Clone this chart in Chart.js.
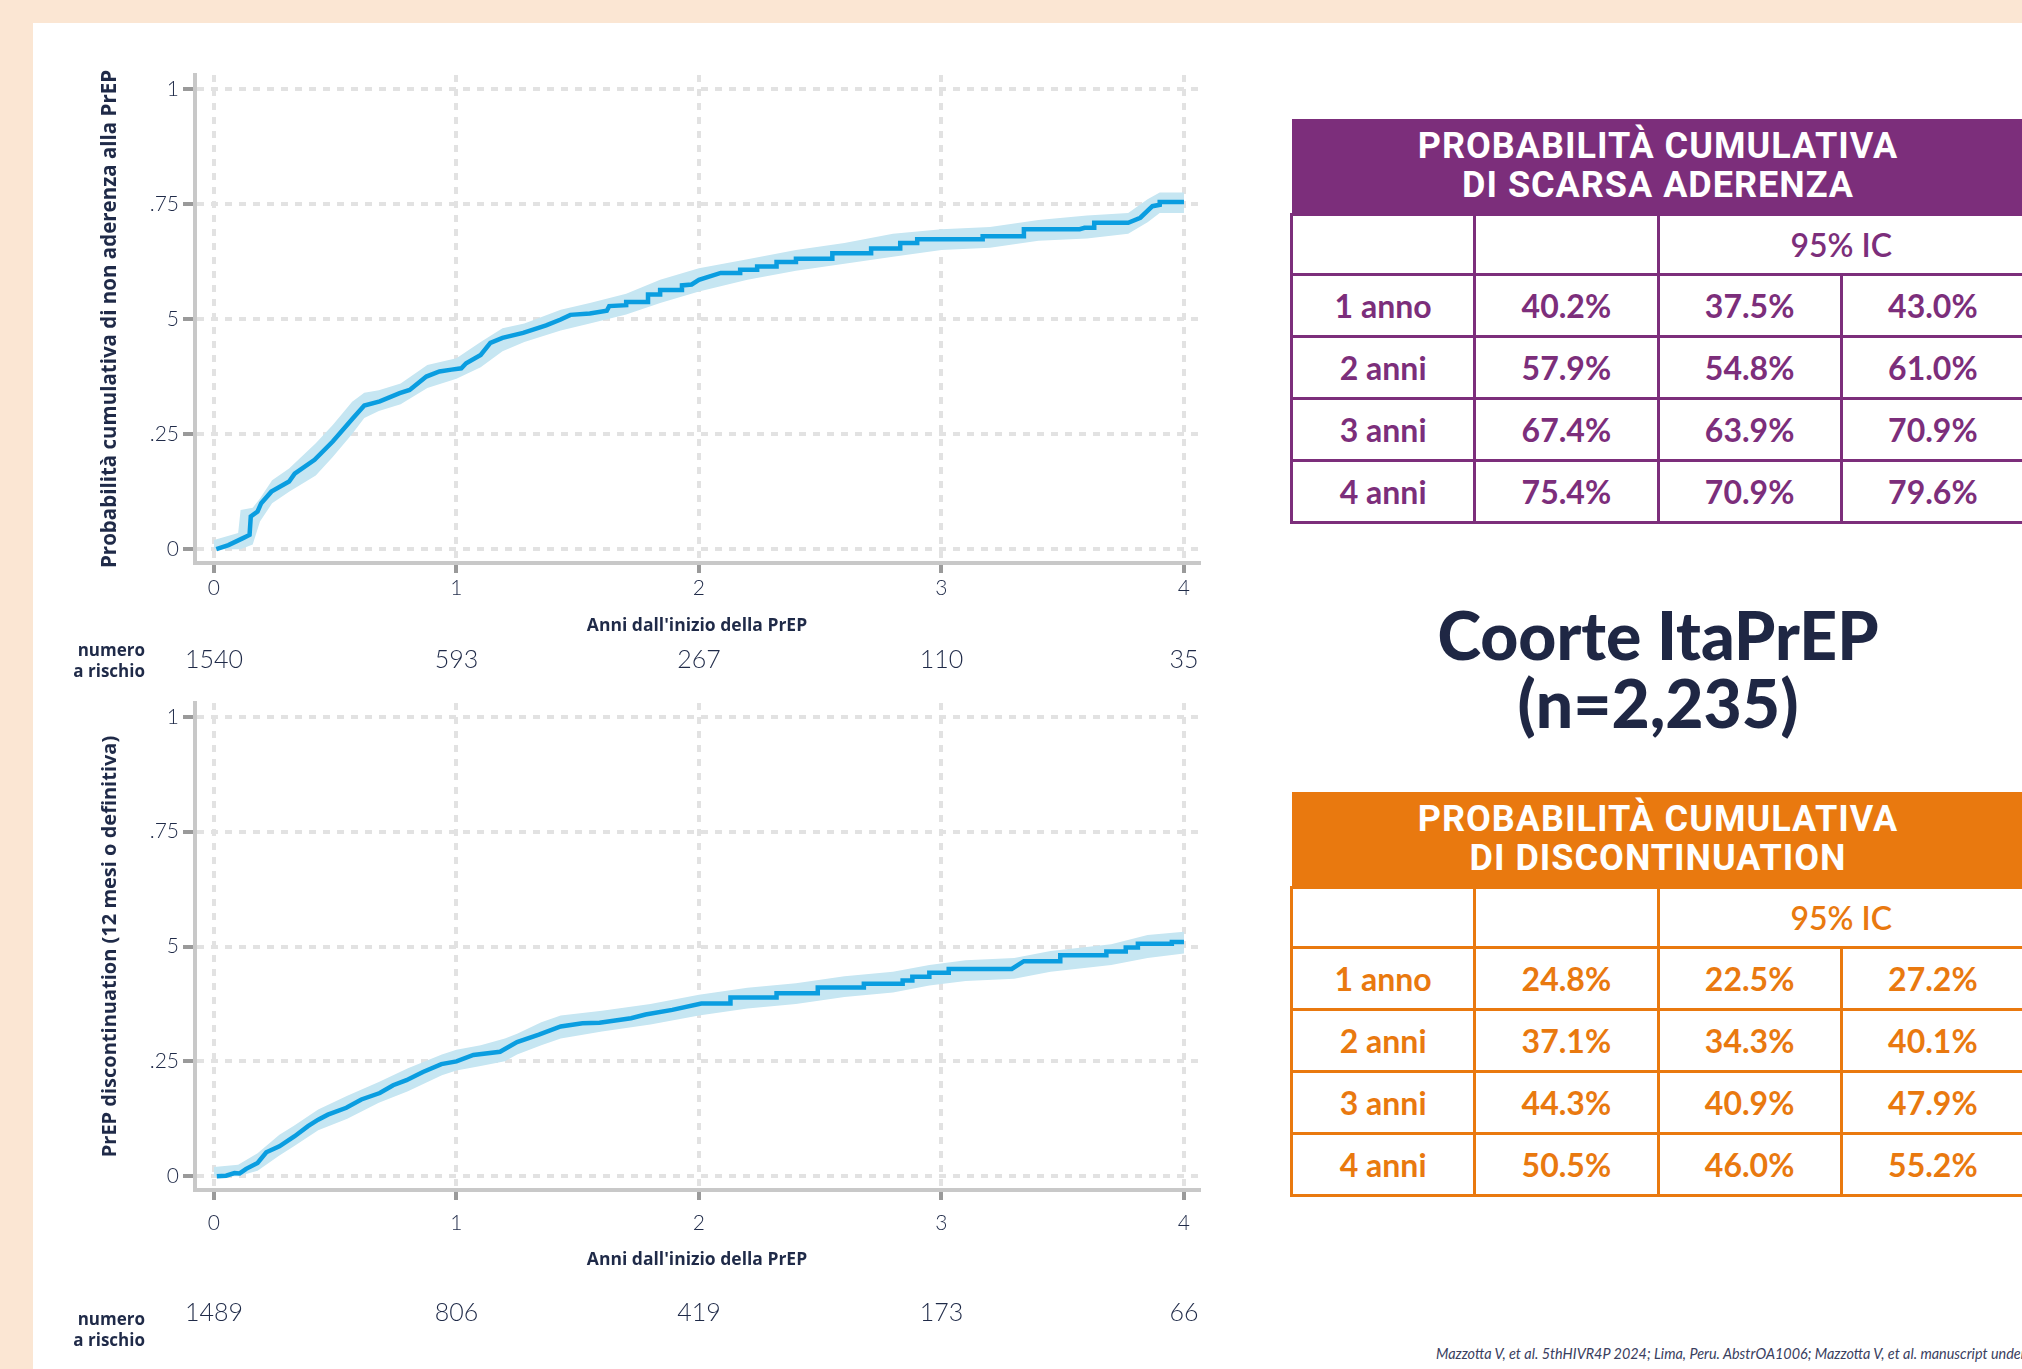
<!DOCTYPE html>
<html lang="it">
<head>
<meta charset="utf-8">
<script src="https://cdn.jsdelivr.net/npm/chart.js@4.4.0/dist/chart.umd.min.js"></script>
<style>
  html, body { margin: 0; padding: 0; }
  body {
    width: 2022px; height: 1369px; overflow: hidden; position: relative;
    background: #fbe6d3; font-family: Lato, "Open Sans", sans-serif; color: #1f2a48;
  }
  .panel { position: absolute; left: 33px; top: 23px; right: 0; bottom: 0; background: #fff; }
  .chart-box { position: absolute; left: 0; width: 1230px; }
  #box1 { top: 0; height: 700px; }
  #box2 { top: 640px; height: 729px; }
  .risk-label {
    position: absolute; left: 25px; width: 120px; text-align: right;
    font-family: "Open Sans", sans-serif; font-weight: 700; font-size: 17px; line-height: 21px; color: #1f2a48;
  }
  table.km {
    position: absolute; left: 1290px; width: 736px; border-collapse: collapse; table-layout: fixed;
  }
  table.km th {
    color: #fff; font-family: Roboto, sans-serif; font-weight: 700; font-size: 36px;
    line-height: 39px; letter-spacing: 1px; padding: 0; height: 94px;
  }
  table.km td {
    border: 3px solid; text-align: center; font-family: Lato, sans-serif; font-weight: 700;
    font-size: 32px; height: 59px; padding: 0;
  }
  table.km tr.ic td { font-weight: 600; height: 57px; }
  .purple th { background: #7c2e7b; }
  .purple td { color: #7c2e7b; border-color: #b488b3; }
  .orange th { background: #e9790f; }
  .orange td { color: #e9790f; border-color: #f3ab6b; }
  .cohort {
    position: absolute; left: 1290px; width: 736px; top: 601px; text-align: center;
    font-family: Lato, sans-serif; font-weight: 900; font-size: 66px; line-height: 68px; color: #1f2744;
  }
  .footnote {
    position: absolute; left: 1436px; top: 1345px; white-space: nowrap;
    font-family: Lato, sans-serif; font-style: italic; font-size: 14.4px; color: #3a4060;
  }
</style>
</head>
<body>
<div class="panel"></div>
<div class="chart-box" id="box1"><canvas id="chart1"></canvas></div>
<div class="chart-box" id="box2"><canvas id="chart2"></canvas></div>
<div class="risk-label" style="top:639px">numero<br>a rischio</div>
<div class="risk-label" style="top:1308px">numero<br>a rischio</div>
<table class="km purple" id="tab1" style="top:119px"></table>
<table class="km orange" id="tab2" style="top:792px"></table>
<div class="cohort">Coorte ItaPrEP<br>(n=2,235)</div>
<div class="footnote">Mazzotta V, et al. 5thHIVR4P 2024; Lima, Peru. AbstrOA1006; Mazzotta V, et al. manuscript under review</div>

<script>
// axes
const xTicks = [0, 1, 2, 3, 4];
const yTicks = [0, 0.25, 0.5, 0.75, 1];
const yTickLabels = ["0", ".25", "5", ".75", "1"];

// cumulative probability of non-adherence (Kaplan-Meier)
const adherenceT = [0.01, 0.06, 0.12, 0.147, 0.152, 0.18, 0.195, 0.237, 0.31, 0.333, 0.415, 0.49, 0.574, 0.62, 0.684, 0.766, 0.807, 0.876, 0.93, 0.98, 1.02, 1.04, 1.10, 1.14, 1.19, 1.275, 1.37, 1.43, 1.47, 1.55, 1.62, 1.63, 1.70, 1.70, 1.79, 1.79, 1.84, 1.84, 1.93, 1.93, 1.97, 2.0, 2.09, 2.17, 2.17, 2.24, 2.24, 2.32, 2.32, 2.40, 2.40, 2.55, 2.55, 2.71, 2.71, 2.83, 2.83, 2.90, 2.90, 3.17, 3.17, 3.34, 3.34, 3.57, 3.59, 3.63, 3.63, 3.77, 3.82, 3.87, 3.90, 3.90, 4.0];
const adherenceY = [0, 0.009, 0.024, 0.031, 0.071, 0.082, 0.10, 0.125, 0.147, 0.164, 0.194, 0.234, 0.285, 0.312, 0.321, 0.339, 0.346, 0.375, 0.386, 0.39, 0.393, 0.404, 0.422, 0.448, 0.459, 0.47, 0.486, 0.499, 0.509, 0.512, 0.518, 0.528, 0.53, 0.537, 0.537, 0.553, 0.553, 0.563, 0.563, 0.573, 0.575, 0.585, 0.60, 0.60, 0.607, 0.607, 0.614, 0.614, 0.624, 0.624, 0.631, 0.631, 0.643, 0.643, 0.653, 0.653, 0.665, 0.665, 0.673, 0.673, 0.68, 0.68, 0.695, 0.695, 0.698, 0.698, 0.709, 0.709, 0.72, 0.745, 0.748, 0.754, 0.754];
const adherenceBandT = [0, 0.10, 0.11, 0.16, 0.19, 0.24, 0.31, 0.42, 0.49, 0.57, 0.62, 0.68, 0.77, 0.88, 1.0, 1.10, 1.19, 1.28, 1.43, 1.55, 1.70, 1.84, 2.0, 2.2, 2.4, 2.6, 2.8, 3.0, 3.2, 3.4, 3.6, 3.77, 3.85, 3.90, 4.0];
const adherenceBandLo = [0, 0, 0, 0.01, 0.06, 0.10, 0.125, 0.16, 0.20, 0.25, 0.285, 0.30, 0.315, 0.35, 0.37, 0.395, 0.43, 0.45, 0.475, 0.49, 0.51, 0.535, 0.56, 0.585, 0.605, 0.62, 0.635, 0.65, 0.655, 0.67, 0.675, 0.685, 0.71, 0.73, 0.73];
const adherenceBandHi = [0.02, 0.035, 0.085, 0.09, 0.11, 0.15, 0.175, 0.23, 0.27, 0.32, 0.34, 0.345, 0.36, 0.40, 0.415, 0.45, 0.48, 0.49, 0.52, 0.535, 0.555, 0.585, 0.61, 0.63, 0.65, 0.665, 0.685, 0.695, 0.70, 0.715, 0.725, 0.73, 0.76, 0.775, 0.775];
const adherenceAtRisk = [1540, 593, 267, 110, 35];

// PrEP discontinuation
const discT = [0.012, 0.05, 0.085, 0.106, 0.133, 0.18, 0.216, 0.27, 0.333, 0.388, 0.43, 0.47, 0.546, 0.608, 0.684, 0.739, 0.794, 0.862, 0.938, 1.0, 1.07, 1.18, 1.25, 1.34, 1.43, 1.52, 1.59, 1.72, 1.78, 1.89, 2.01, 2.13, 2.13, 2.32, 2.32, 2.49, 2.49, 2.68, 2.68, 2.84, 2.84, 2.88, 2.88, 2.95, 2.95, 3.03, 3.03, 3.29, 3.34, 3.49, 3.49, 3.68, 3.68, 3.76, 3.76, 3.81, 3.81, 3.95, 3.95, 4.0];
const discY = [0, 0.001, 0.007, 0.006, 0.016, 0.029, 0.052, 0.065, 0.087, 0.109, 0.123, 0.134, 0.149, 0.167, 0.181, 0.198, 0.209, 0.227, 0.244, 0.25, 0.264, 0.271, 0.292, 0.308, 0.326, 0.333, 0.334, 0.344, 0.352, 0.362, 0.376, 0.376, 0.389, 0.389, 0.398, 0.398, 0.411, 0.411, 0.419, 0.419, 0.426, 0.426, 0.434, 0.434, 0.443, 0.443, 0.451, 0.451, 0.468, 0.468, 0.481, 0.481, 0.489, 0.489, 0.498, 0.498, 0.506, 0.506, 0.51, 0.51];
const discBandT = [0, 0.1, 0.18, 0.27, 0.33, 0.43, 0.55, 0.68, 0.8, 0.94, 1.0, 1.1, 1.2, 1.25, 1.35, 1.43, 1.6, 1.8, 2.0, 2.2, 2.4, 2.6, 2.8, 2.95, 3.1, 3.3, 3.45, 3.7, 3.85, 4.0];
const discBandLo = [0, 0, 0.012, 0.045, 0.065, 0.10, 0.125, 0.16, 0.185, 0.22, 0.23, 0.24, 0.25, 0.265, 0.285, 0.30, 0.315, 0.33, 0.35, 0.365, 0.375, 0.39, 0.40, 0.415, 0.425, 0.43, 0.445, 0.46, 0.475, 0.485];
const discBandHi = [0.02, 0.025, 0.05, 0.09, 0.11, 0.145, 0.175, 0.205, 0.235, 0.265, 0.275, 0.285, 0.30, 0.31, 0.335, 0.35, 0.36, 0.375, 0.395, 0.41, 0.42, 0.435, 0.445, 0.46, 0.47, 0.475, 0.49, 0.505, 0.525, 0.532];
const discAtRisk = [1489, 806, 419, 173, 66];

// tables
const yearLabels = ["1 anno", "2 anni", "3 anni", "4 anni"];
const adherencePct = [40.2, 57.9, 67.4, 75.4];
const adherenceLow = [37.5, 54.8, 63.9, 70.9];
const adherenceHigh = [43.0, 61.0, 70.9, 79.6];
const discPct = [24.8, 37.1, 44.3, 50.5];
const discLow = [22.5, 34.3, 40.9, 46.0];
const discHigh = [27.2, 40.1, 47.9, 55.2];

const navy = "#1f2a48";
const pts = (xs, ys) => xs.map((x, i) => ({ x: x, y: ys[i] }));

function makeChart(id, d) {
  const ctx = document.getElementById(id);
  return new Chart(ctx, {
    type: "line",
    data: {
      datasets: [
        { data: pts(d.t, d.y), borderColor: "#0a9de0", borderWidth: 4.5, pointRadius: 0, fill: false, order: 0 },
        { data: pts(d.bandT, d.lo), borderWidth: 0, borderColor: "rgba(0,0,0,0)", pointRadius: 0, fill: false, order: 2 },
        { data: pts(d.bandT, d.hi), borderWidth: 0, borderColor: "rgba(0,0,0,0)", pointRadius: 0,
          fill: 1, backgroundColor: "#c6e6f2", order: 1 }
      ]
    },
    options: {
      responsive: true,
      maintainAspectRatio: false,
      animation: false,
      parsing: false,
      layout: { padding: { left: 45, top: d.padTop, right: 31, bottom: d.padBottom } },
      plugins: { legend: { display: false }, tooltip: { enabled: false } },
      scales: {
        x: {
          type: "linear", min: -0.078, max: 4.062, position: "bottom", weight: 0,
          afterBuildTicks: s => { s.ticks = xTicks.map(v => ({ value: v })); },
          afterFit: s => { s.height = d.xHeight; },
          grid: { color: "#e2e2e2", lineWidth: 4, tickColor: "#9a9a9a", tickWidth: 4, tickLength: 10, tickBorderDash: [] },
          border: { display: true, color: "#c8c8c8", width: 4, dash: [7, 7] },
          ticks: { autoSkip: false, maxRotation: 0, padding: d.xTickPad, color: navy,
            font: { family: "Lato", size: 21, weight: 300 } },
          title: { display: true, text: "Anni dall'inizio della PrEP", color: navy,
            padding: { top: 0, bottom: 3 }, font: { family: "Open Sans", size: 17.5, weight: 700 } }
        },
        risk: {
          type: "linear", min: -0.078, max: 4.062, position: "bottom", weight: 1,
          afterBuildTicks: s => { s.ticks = xTicks.map(v => ({ value: v })); },
          afterFit: s => { s.height = d.riskHeight; },
          grid: { display: false, drawTicks: false, tickLength: 0 },
          border: { display: false },
          ticks: { autoSkip: false, maxRotation: 0, padding: d.riskPad, color: navy,
            font: { family: "Lato", size: 25, weight: 300 },
            callback: (v, i) => String(d.atRisk[i]) }
        },
        y: {
          type: "linear", min: -0.03, max: 1.03,
          afterBuildTicks: s => { s.ticks = yTicks.map(v => ({ value: v })); },
          afterFit: s => { s.width = 150; },
          grid: { color: "#e2e2e2", lineWidth: 4, tickColor: "#9a9a9a", tickWidth: 4, tickLength: 12, tickBorderDash: [] },
          border: { display: true, color: "#c8c8c8", width: 4, dash: [7, 7] },
          ticks: { padding: 4, color: navy, font: { family: "Lato", size: 21, weight: 300 },
            callback: (v, i) => yTickLabels[i] },
          title: { display: true, text: d.yTitle, color: navy,
            padding: { top: 53, bottom: 0 }, font: { family: "Open Sans", size: d.yTitleSize, weight: 700 } }
        }
      }
    }
  });
}

makeChart("chart1", {
  t: adherenceT, y: adherenceY, bandT: adherenceBandT, lo: adherenceBandLo, hi: adherenceBandHi,
  atRisk: adherenceAtRisk, yTitle: "Probabilità cumulativa di non aderenza alla PrEP", yTitleSize: 20.5,
  padTop: 75, padBottom: 10, xHeight: 77, xTickPad: 3, riskHeight: 50, riskPad: 5
});

makeChart("chart2", {
  t: discT, y: discY, bandT: discBandT, lo: discBandLo, hi: discBandHi,
  atRisk: discAtRisk, yTitle: "PrEP discontinuation (12 mesi o definitiva)", yTitleSize: 20,
  padTop: 63, padBottom: 25, xHeight: 84, xTickPad: 11, riskHeight: 70, riskPad: 24
});

function fillTable(id, title, est, lo, hi) {
  const fmt = v => v.toFixed(1) + "%";
  let html = `<colgroup><col><col><col><col></colgroup>`;
  html += `<tr><th colspan="4">${title}</th></tr>`;
  html += `<tr class="ic"><td></td><td></td><td colspan="2">95% IC</td></tr>`;
  yearLabels.forEach((lab, i) => {
    html += `<tr><td>${lab}</td><td>${fmt(est[i])}</td><td>${fmt(lo[i])}</td><td>${fmt(hi[i])}</td></tr>`;
  });
  document.getElementById(id).innerHTML = html;
}

fillTable("tab1", "PROBABILITÀ CUMULATIVA<br>DI SCARSA ADERENZA", adherencePct, adherenceLow, adherenceHigh);
fillTable("tab2", "PROBABILITÀ CUMULATIVA<br>DI DISCONTINUATION", discPct, discLow, discHigh);
</script>
</body>
</html>
